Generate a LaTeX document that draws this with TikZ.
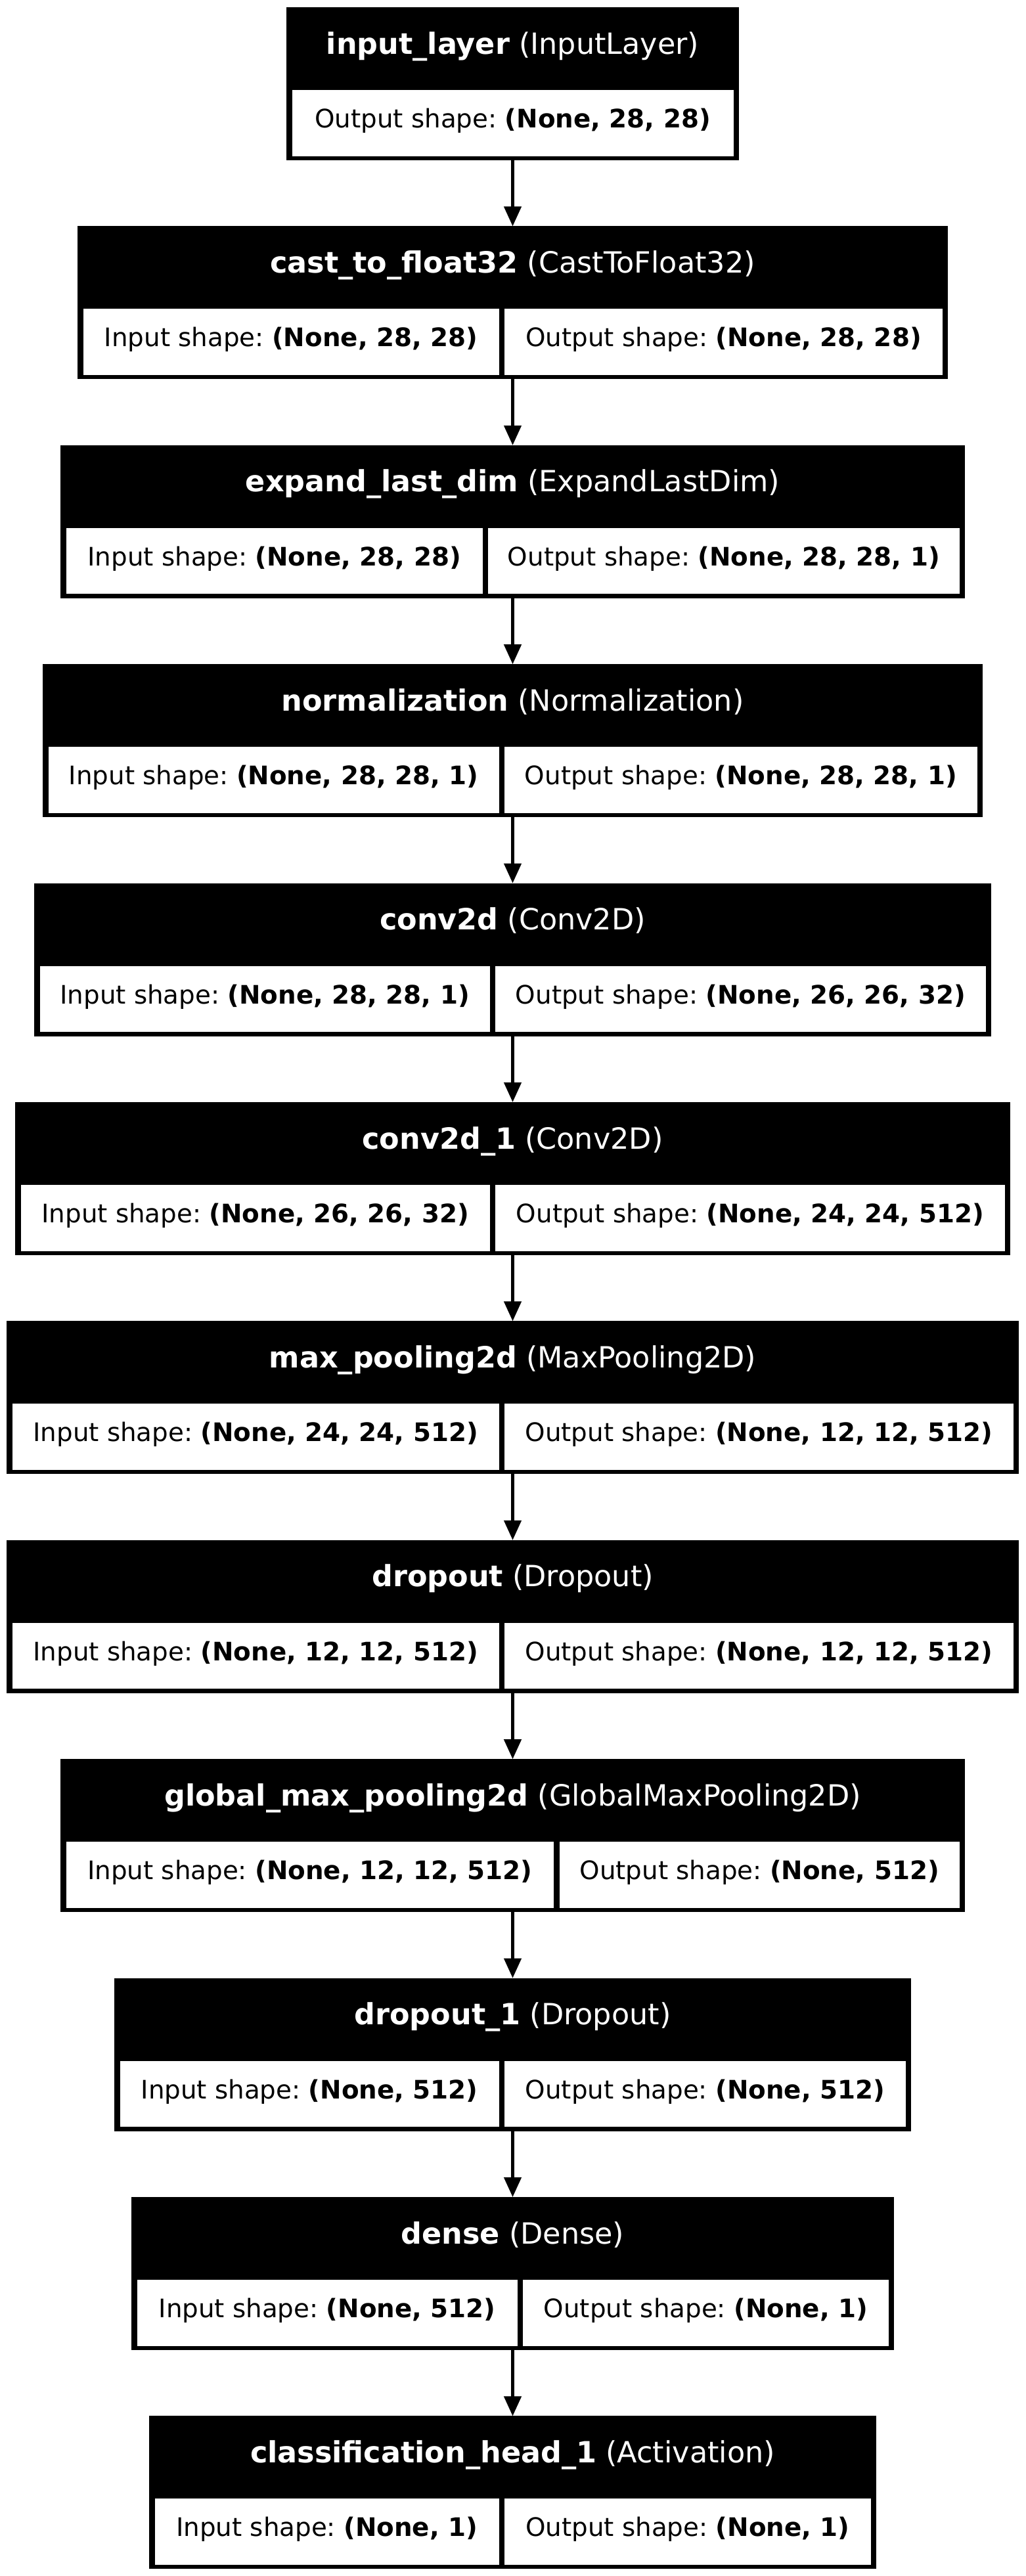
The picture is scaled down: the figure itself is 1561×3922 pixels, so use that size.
\documentclass[tikz,border=0pt]{standalone}
\usepackage{fontspec}
\setmainfont{DejaVu Sans}
\usetikzlibrary{arrows.meta}
\frenchspacing
\newcommand\hdrsize{\fontsize{44.5}{52}\selectfont\frenchspacing}
\newcommand\bodysize{\fontsize{38.8}{46}\selectfont\frenchspacing}
% #1 id, #2 index, #3 left, #4 divider x, #5 layer name, #6 class, #7 input, #8 output
\newcommand\layerbox[8]{%
  \pgfmathsetmacro\lbT{11+#2*333.4}%
  \pgfmathsetmacro\lbW{1561-2*#3}%
  \pgfmathsetmacro\lbWa{#4-4.3-#3-8.5}%
  \pgfmathsetmacro\lbWb{1561-#3-8.5-#4-4.3}%
  \pgfmathsetmacro\lbCa{(#3+8.5+#4-4.3)/2}%
  \pgfmathsetmacro\lbCb{(#4+4.3+1561-#3-8.5)/2}%
  \node[outer, minimum width=\lbW pt] (#1) at (#3,\lbT) {};
  \node[hdrtext] (#1h) at (780.5,\lbT+71) {\textbf{#5} (#6)};
  \node[cellbox, minimum width=\lbWa pt] (#1a) at (#3+8.5,\lbT+126) {};
  \node[cellbox, minimum width=\lbWb pt] (#1b) at (#4+4.3,\lbT+126) {};
  \node[celltext] (#1at) at (\lbCa,\lbT+183.5) {Input shape: \textbf{#7}};
  \node[celltext] (#1bt) at (\lbCb,\lbT+183.5) {Output shape: \textbf{#8}};
}
\begin{document}
\begin{tikzpicture}[x=1pt,y=-1pt,
  outer/.style={fill=black, inner sep=0pt, outer sep=0pt, anchor=north west, minimum height=233pt},
  cellbox/.style={fill=white, inner sep=0pt, outer sep=0pt, anchor=north west, minimum height=100.5pt},
  hdrtext/.style={text=white, font=\hdrsize, inner sep=0pt, anchor=base},
  celltext/.style={text=black, font=\bodysize, inner sep=0pt, anchor=base},
  flow/.style={line width=4.5pt, -{Triangle[length=30pt,width=26pt]}}]
\useasboundingbox[fill=white] (0,0) rectangle (1561,3922);

% layer 0: input layer (single cell)
\node[outer, minimum width=689pt] (L0) at (436,11) {};
\node[hdrtext] (L0h) at (780.5,82) {\textbf{input\_layer} (InputLayer)};
\node[cellbox, minimum width=672pt] (L0a) at (444.5,137) {};
\node[celltext] (L0at) at (780.5,194.5) {Output shape: \textbf{(None, 28, 28)}};

\layerbox{L1}{1}{118}{764}{cast\_to\_float32}{CastToFloat32}{(None, 28, 28)}{(None, 28, 28)}
\layerbox{L2}{2}{92}{739}{expand\_last\_dim}{ExpandLastDim}{(None, 28, 28)}{(None, 28, 28, 1)}
\layerbox{L3}{3}{65}{764}{normalization}{Normalization}{(None, 28, 28, 1)}{(None, 28, 28, 1)}
\layerbox{L4}{4}{52}{750}{conv2d}{Conv2D}{(None, 28, 28, 1)}{(None, 26, 26, 32)}
\layerbox{L5}{5}{23}{750}{conv2d\_1}{Conv2D}{(None, 26, 26, 32)}{(None, 24, 24, 512)}
\layerbox{L6}{6}{10}{764}{max\_pooling2d}{MaxPooling2D}{(None, 24, 24, 512)}{(None, 12, 12, 512)}
\layerbox{L7}{7}{10}{764}{dropout}{Dropout}{(None, 12, 12, 512)}{(None, 12, 12, 512)}
\layerbox{L8}{8}{92}{847.5}{global\_max\_pooling2d}{GlobalMaxPooling2D}{(None, 12, 12, 512)}{(None, 512)}
\layerbox{L9}{9}{174}{764}{dropout\_1}{Dropout}{(None, 512)}{(None, 512)}
\layerbox{L10}{10}{200}{792}{dense}{Dense}{(None, 512)}{(None, 1)}
\layerbox{L11}{11}{227}{764}{classification\_head\_1}{Activation}{(None, 1)}{(None, 1)}

\foreach \a/\b in {L0/L1,L1/L2,L2/L3,L3/L4,L4/L5,L5/L6,L6/L7,L7/L8,L8/L9,L9/L10,L10/L11}
  \draw[flow] (\a.south) -- (\b.north);
\end{tikzpicture}
\end{document}
